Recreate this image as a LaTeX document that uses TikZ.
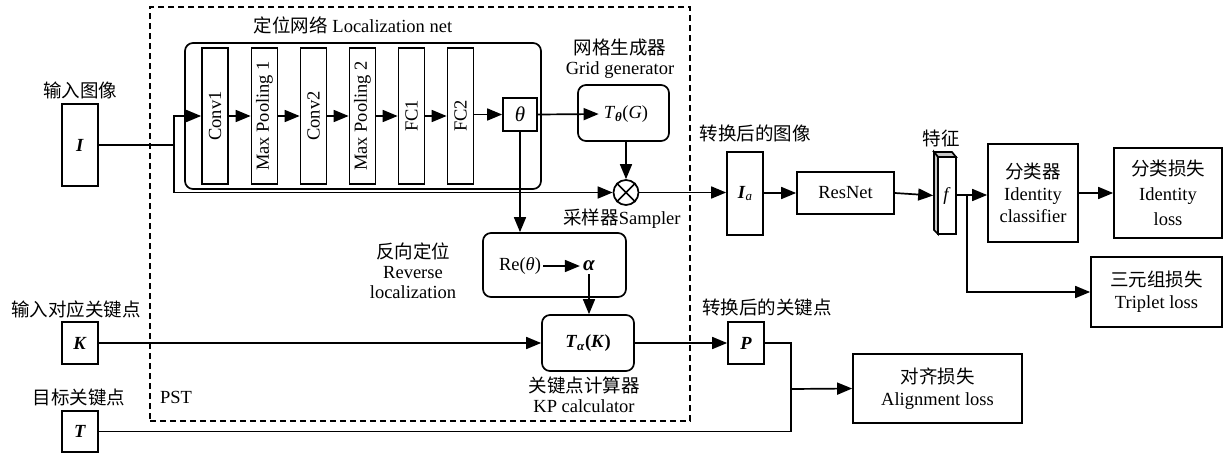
\documentclass[tikz,border=0pt]{standalone}
\usepackage{fontspec}
\setmainfont{Liberation Serif}
\newfontfamily\cjkf{Noto Sans CJK SC}
\newcommand{\zh}[1]{{\cjkf #1}}
\newcommand{\bi}[1]{\textbf{\textit{#1}}}
\usetikzlibrary{arrows.meta,calc}
\begin{document}
\begin{tikzpicture}[x=1pt,y=-1pt,
  font=\fontsize{18.5}{20}\selectfont,
  lw/.style={line width=1.7pt},
  box/.style={draw,lw,inner sep=0pt,align=center},
  rbox/.style={box,rounded corners=8pt},
  vbox/.style={box,minimum width=26pt,minimum height=136pt},
  lbl/.style={inner sep=0pt,align=center},
  arr/.style={lw,-{Triangle[length=15pt,width=12pt]}},
  ln/.style={lw}]
\useasboundingbox (0,0) rectangle (1231,453);
% frames
\node[draw,lw,dash pattern=on 6pt off 4pt,minimum width=540pt,minimum height=414pt,inner sep=0pt] (pst) at (420,214) {};
\node[lbl] (pstl) at (176,397) {PST};
\node[rbox,minimum width=356pt,minimum height=146pt] (loc) at (363,116) {};
\node[lbl] (loct) at (353,25) {\zh{定位网络} Localization net};
% inputs
\node[box,minimum width=36pt,minimum height=82pt] (I) at (80,145) {\bi{I}};
\node[lbl] (Il) at (80,90) {\zh{输入图像}};
\node[box,minimum width=36pt,minimum height=42pt] (K) at (80,343) {\bi{K}};
\node[lbl] (Kl) at (76,309) {\zh{输入对应关键点}};
\node[box,minimum width=36pt,minimum height=41pt] (T) at (80,431.5) {\bi{T}};
\node[lbl] (Tl) at (79,397) {\zh{目标关键点}};
% localization net
\node[vbox] (c1) at (215,116) {\rotatebox{90}{Conv1}};
\node[vbox] (m1) at (264.5,116) {\rotatebox{90}{Max Pooling 1}};
\node[vbox] (c2) at (313.5,116) {\rotatebox{90}{Conv2}};
\node[vbox] (m2) at (362.5,116) {\rotatebox{90}{Max Pooling 2}};
\node[vbox] (f1) at (411.5,116) {\rotatebox{90}{FC1}};
\node[vbox] (f2) at (460.5,116) {\rotatebox{90}{FC2}};
\node[box,minimum width=34pt,minimum height=33pt,font=\fontsize{21}{21}\selectfont] (th) at (520,114.5) {\textit{θ}};
% grid generator
\node[rbox,minimum width=91pt,minimum height=56pt] (grid) at (623.5,113) {};
\node[inner sep=5pt] (tg) at (626,114) {\textit{T}\textsubscript{\bi{θ}}(\textit{G})};
\node[lbl] (gridl) at (620,59) {\zh{网格生成器}\\Grid generator};
\node[draw,lw,circle,minimum size=25pt,inner sep=0pt] (s) at (626,192.5) {};
\draw[lw] (s.45) -- (s.225) (s.135) -- (s.315);
\node[lbl] (sl) at (622,219) {\zh{采样器}Sampler};
% reverse localization
\node[rbox,minimum width=143pt,minimum height=64pt] (re) at (554.5,265) {};
\node[inner sep=2pt] (ret) at (520,266) {Re(\textit{θ})};
\node[inner sep=3pt,font=\fontsize{21}{21}\selectfont] (al) at (589,266) {\bi{α}};
\node[lbl] (rel) at (413,271) {\zh{反向定位}\\Reverse\\localization};
\node[rbox,minimum width=92pt,minimum height=56pt] (tak) at (588,343) {\bi{T}\textsubscript{\bi{α}}\textbf{(}\bi{K}\textbf{)}};
\node[lbl] (takl) at (584,395) {\zh{关键点计算器}\\KP calculator};
% right part
\node[box,minimum width=36pt,minimum height=83pt] (Ia) at (745,193.5) {\bi{I}\raisebox{-0.35ex}{\fontsize{13}{13}\selectfont\textit{a}}};
\node[lbl] (Ial) at (755,133) {\zh{转换后的图像}};
\node[box,minimum width=97pt,minimum height=42pt] (res) at (845.5,193) {ResNet};
\draw[lw,fill=gray!45] (938,157) -- (956,157) -- (952,152) -- (934,152) -- cycle;
\draw[lw,fill=gray!45] (938,157) -- (938,234) -- (934,230) -- (934,152) -- cycle;
\node[box,fill=white,minimum width=18pt,minimum height=77pt] (f) at (947,195.5) {\textit{f}};
\node[lbl] (fl) at (941,138) {\zh{特征}};
\node[box,minimum width=90pt,minimum height=98pt,font=\fontsize{18.5}{22}\selectfont] (cls) at (1033,193) {\zh{分类器}\\Identity\\classifier};
\node[box,minimum width=108pt,minimum height=90pt,font=\fontsize{18.5}{25}\selectfont] (idl) at (1168,193) {\zh{分类损失}\\Identity\\loss};
\node[box,minimum width=131pt,minimum height=70pt,font=\fontsize{18.5}{22}\selectfont] (tri) at (1156.5,292) {\zh{三元组损失}\\Triplet loss};
\node[box,minimum width=36pt,minimum height=42pt] (P) at (746,343) {\bi{P}};
\node[lbl] (Pl) at (767,307) {\zh{转换后的关键点}};
\node[box,minimum width=169pt,minimum height=69pt,font=\fontsize{18.5}{22}\selectfont] (ali) at (937.5,388.5) {\zh{对齐损失}\\Alignment loss};
% connectors
\coordinate (j1) at (174,145);
\draw[ln] (I.east) -- (j1);
\draw[arr] (j1) |- (c1.west);
\draw[arr] (j1) |- (s.west);
\draw[arr] (c1) -- (m1);
\draw[arr] (m1) -- (c2);
\draw[arr] (c2) -- (m2);
\draw[arr] (m2) -- (f1);
\draw[arr] (f1) -- (f2);
\draw[arr] (f2.east |- th.west) -- (th.west);
\draw[arr] (th.east) -- (tg.west);
\draw[arr] (grid.south -| s.north) -- (s.north);
\draw[arr] (s.east) -- (Ia.west |- s.east);
\draw[arr] (th.south) -- (th.south |- re.north);
\draw[arr] (ret.east) -- (al.west);
\draw[arr] (al.south) -- (al.south |- tak.north);
\draw[arr] (K.east) -- (tak.west);
\draw[arr] (tak.east) -- (P.west);
\draw[arr] (Ia.east |- res.west) -- (res.west);
\draw[arr] (res.east) -- ([xshift=-4pt]f.west);
\coordinate (j2) at (967,195);
\draw[arr] (f.east |- j2) -- (cls.west |- j2);
\draw[arr] (j2) |- (tri.west);
\draw[arr] (cls.east) -- (idl.west);
\coordinate (j3) at (791,389);
\draw[ln] (P.east) -| (j3);
\draw[ln] (T.east) -| (j3);
\draw[arr] (j3) -- (ali.west);
\end{tikzpicture}
\end{document}
